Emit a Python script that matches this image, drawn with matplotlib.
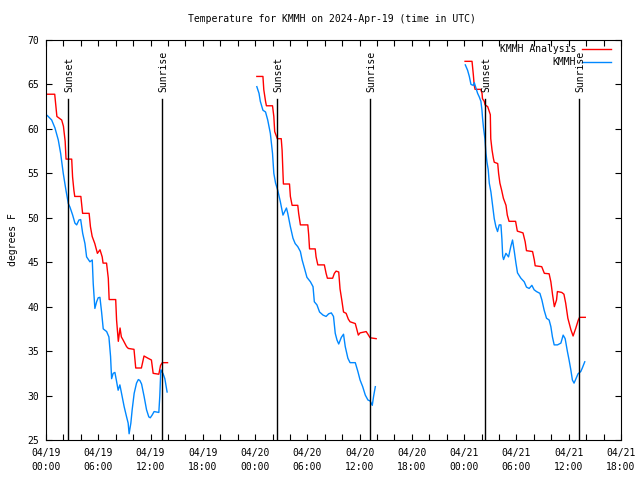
import matplotlib
matplotlib.use("Agg")
import matplotlib.pyplot as plt
from matplotlib.lines import Line2D

plt.rcParams['font.family'] = ['DejaVu Sans Mono']
plt.rcParams['font.size'] = 7

# hours since 04/19 00:00 UTC
red1_h = [0.15, 1.0, 1.25, 1.8, 2.0, 2.2, 2.3, 2.95, 3.05, 3.2, 3.3, 4.0, 4.2, 4.95, 5.1, 5.3, 5.6, 5.9, 6.2, 6.45,
          6.55, 6.95, 7.15, 7.25, 8.0, 8.1, 8.3, 8.5, 8.65, 8.85, 9.25, 9.45, 10.1, 10.3, 10.95, 11.15, 11.25, 11.7,
          12.1, 12.3, 12.95, 13.15, 13.35, 13.95]
red1_t = [63.9, 63.9, 61.4, 61.0, 60.3, 58.6, 56.6, 56.6, 54.6, 53.1, 52.4, 52.4, 50.5, 50.5, 49.0, 47.9, 47.1, 46.0,
          46.4, 45.6, 44.9, 44.9, 43.2, 40.8, 40.8, 38.5, 36.1, 37.6, 36.6, 36.25, 35.5, 35.3, 35.2, 33.1, 33.1, 34.0,
          34.45, 34.2, 34.0, 32.5, 32.4, 33.4, 33.7, 33.7]

red2_h = [24.2, 24.9, 25.0, 25.2, 25.3, 26.0, 26.15, 26.25, 26.55, 27.0, 27.1, 27.2, 27.25, 27.95, 28.05, 28.25, 28.9,
          29.0, 29.2, 30.05, 30.15, 30.25, 30.9, 31.0, 31.2, 31.95, 32.15, 32.3, 32.9, 33.1, 33.3, 33.6, 33.75, 33.95,
          34.15, 34.45, 34.7, 34.9, 35.5, 35.65, 35.85, 36.05, 36.75, 36.95, 37.2, 37.9]
red2_t = [65.9, 65.9, 64.4, 63.1, 62.6, 62.6, 61.4, 59.7, 58.9, 58.9, 57.6, 55.0, 53.8, 53.8, 52.4, 51.4, 51.4, 50.5,
          49.2, 49.2, 48.1, 46.5, 46.5, 45.6, 44.7, 44.7, 43.75, 43.2, 43.2, 43.75, 44.0, 43.9, 42.0, 40.75, 39.4,
          39.25, 38.6, 38.3, 38.1, 37.55, 36.8, 37.05, 37.2, 36.9, 36.5, 36.4]

red3_h = [48.1, 48.9, 49.05, 49.15, 49.25, 49.9, 50.05, 50.1, 50.3, 50.4, 50.7, 50.9, 51.0, 51.05, 51.2, 51.35, 51.45,
          51.85, 51.95, 52.1, 52.3, 52.5, 52.8, 52.95, 53.15, 53.9, 54.1, 54.75, 55.0, 55.15, 55.85, 56.05, 56.15,
          56.9, 57.2, 57.75, 57.95, 58.15, 58.35, 58.6, 58.7, 59.2, 59.45, 59.65, 59.9, 60.25, 60.5, 60.8, 61.1,
          61.25, 61.9]
red3_t = [67.6, 67.6, 66.1, 64.9, 64.45, 64.45, 64.0, 63.4, 63.1, 62.7, 62.5, 61.9, 61.6, 58.9, 57.6, 56.7, 56.25,
          56.1, 55.0, 53.9, 53.1, 52.2, 51.4, 50.3, 49.6, 49.6, 48.5, 48.3, 47.3, 46.3, 46.2, 45.25, 44.6, 44.5,
          43.75, 43.7, 42.8, 41.3, 40.0, 40.75, 41.7, 41.6, 41.4, 40.4, 38.7, 37.4, 36.7, 37.55, 38.5, 38.8, 38.8]

blue1_h = [0.15, 0.65, 1.03, 1.41, 1.68, 1.98, 2.29, 2.56, 2.75, 3.06, 3.32, 3.52, 3.78, 3.98, 4.21, 4.47, 4.66, 5.04,
           5.31, 5.42, 5.61, 5.81, 5.99, 6.19, 6.38, 6.57, 6.96, 7.22, 7.41, 7.53, 7.71, 7.91, 8.1, 8.28, 8.48, 8.67,
           8.97, 9.25, 9.43, 9.54, 9.74, 9.89, 10.12, 10.39, 10.6, 10.77, 10.97, 11.26, 11.54, 11.8, 11.97, 12.18,
           12.41, 12.95, 13.06, 13.18, 13.44, 13.64, 13.9]
blue1_t = [61.5, 61.0, 60.1, 58.75, 57.25, 55.0, 53.1, 51.6, 51.2, 50.3, 49.4, 49.2, 49.75, 49.8, 48.25, 47.1, 45.6,
           45.05, 45.25, 42.6, 39.8, 40.55, 41.0, 41.05, 39.4, 37.5, 37.2, 36.6, 34.4, 31.9, 32.5, 32.6, 31.6, 30.6,
           31.2, 30.25, 28.75, 27.6, 26.9, 25.7, 26.9, 28.4, 30.25, 31.4, 31.8, 31.7, 31.3, 29.9, 28.4, 27.6, 27.5,
           27.8, 28.2, 28.1, 29.9, 32.9, 32.45, 31.9, 30.4]

blue2_h = [24.2, 24.45, 24.6, 24.9, 25.2, 25.45, 25.75, 26.0, 26.15, 26.35, 26.6, 26.9, 27.2, 27.4, 27.6, 27.75, 28.05,
           28.35, 28.6, 28.9, 29.2, 29.4, 29.7, 29.95, 30.35, 30.65, 30.8, 31.1, 31.4, 31.8, 32.15, 32.45, 32.75,
           33.0, 33.2, 33.4, 33.6, 33.9, 34.15, 34.35, 34.65, 34.9, 35.5, 35.8, 36.05, 36.35, 36.65, 36.95, 37.2,
           37.45, 37.6, 37.8]
blue2_t = [64.75, 64.0, 63.1, 62.1, 61.9, 61.0, 59.5, 57.25, 55.0, 53.9, 53.1, 51.8, 50.3, 50.7, 51.1, 50.5, 49.0,
           47.7, 47.1, 46.75, 46.2, 45.25, 44.2, 43.3, 42.8, 42.25, 40.55, 40.2, 39.4, 39.05, 38.9, 39.2, 39.3, 38.9,
           37.0, 36.25, 35.8, 36.55, 36.9, 35.5, 34.2, 33.7, 33.7, 32.7, 31.75, 31.0, 30.05, 29.5, 29.4, 28.9, 29.9,
           31.0]

blue3_h = [48.13, 48.39, 48.59, 48.78, 49.04, 49.16, 49.35, 49.54, 49.73, 49.92, 50.04, 50.11, 50.22, 50.38, 50.5,
           50.61, 50.76, 50.88, 51.07, 51.26, 51.45, 51.64, 51.83, 52.02, 52.22, 52.33, 52.42, 52.52, 52.79, 53.09,
           53.36, 53.55, 53.74, 53.94, 54.12, 54.51, 54.89, 55.15, 55.46, 55.77, 56.03, 56.3, 56.69, 56.92, 57.18,
           57.45, 57.75, 57.95, 58.13, 58.33, 58.71, 59.1, 59.36, 59.59, 59.85, 60.04, 60.24, 60.42, 60.61, 60.81,
           61.07, 61.38, 61.56, 61.84]
blue3_t = [67.2, 66.6, 65.9, 65.0, 64.9, 65.2, 64.6, 64.0, 63.6, 63.1, 62.1, 61.2, 60.1, 58.9, 57.25, 56.3, 55.4,
           53.9, 52.9, 51.4, 49.9, 49.0, 48.45, 49.2, 49.2, 47.6, 45.7, 45.3, 46.0, 45.6, 46.8, 47.5, 46.3, 44.9,
           43.8, 43.2, 42.8, 42.2, 42.05, 42.4, 41.9, 41.7, 41.5, 40.75, 39.6, 38.7, 38.5, 37.75, 36.6, 35.7, 35.7,
           35.9, 36.8, 36.4, 34.95, 34.0, 32.9, 31.75, 31.4, 31.85, 32.45, 32.7, 33.1, 33.8]

event_hours = [2.52, 13.3, 26.47, 37.24, 50.42, 61.19]
event_names = ['Sunset', 'Sunrise', 'Sunset', 'Sunrise', 'Sunset', 'Sunrise']

tick_hours = list(range(0, 67, 2))
label_hours = [0, 6, 12, 18, 24, 30, 36, 42, 48, 54, 60, 66]
label_text = ['04/19\n00:00', '04/19\n06:00', '04/19\n12:00', '04/19\n18:00',
              '04/20\n00:00', '04/20\n06:00', '04/20\n12:00', '04/20\n18:00',
              '04/21\n00:00', '04/21\n06:00', '04/21\n12:00', '04/21\n18:00']

red = '#ff0000'
blue = '#0088ff'

fig = plt.figure(figsize=(6.4, 4.8), dpi=100)
ax = fig.add_axes([46 / 640, 40 / 480, 575 / 640, 400 / 480])

for h, t in [(red1_h, red1_t), (red2_h, red2_t), (red3_h, red3_t)]:
    ax.plot(h, t, color=red, lw=1.0)
for h, t in [(blue1_h, blue1_t), (blue2_h, blue2_t), (blue3_h, blue3_t)]:
    ax.plot(h, t, color=blue, lw=1.0)

for h, name in zip(event_hours, event_names):
    ax.plot([h, h], [25, 63.4], color='black', lw=1.0)
    ax.text(h + 0.15, 64.1, name, rotation=90, ha='center', va='bottom', fontsize=7)

ax.set_xlim(0, 66)
ax.set_ylim(25, 70)
ax.set_xticks(tick_hours)
ax.set_xticklabels([label_text[label_hours.index(h)] if h in label_hours else '' for h in tick_hours],
                   linespacing=1.4)
ax.set_yticks(range(25, 71, 5))
ax.tick_params(direction='in', length=4, width=0.8, top=True, right=True, labelsize=7)
ax.tick_params(axis='x', pad=6)
ax.tick_params(axis='y', pad=5)
for s in ax.spines.values():
    s.set_linewidth(0.8)

ax.set_ylabel('degrees F', fontsize=7, labelpad=7)
fig.text(0.519, 1 - 19 / 480, 'Temperature for KMMH on 2024-Apr-19 (time in UTC)',
         ha='center', va='center', fontsize=7)

# legend, gnuplot style: right-aligned text, sample line to the right
ax.text(0.9217, 0.9775, 'KMMH Analysis', transform=ax.transAxes, ha='right', va='center', fontsize=7)
ax.text(0.9217, 0.945, 'KMMH', transform=ax.transAxes, ha='right', va='center', fontsize=7)
ax.add_line(Line2D([0.932, 0.983], [0.9775, 0.9775], transform=ax.transAxes, color=red, lw=1.0))
ax.add_line(Line2D([0.932, 0.983], [0.945, 0.945], transform=ax.transAxes, color=blue, lw=1.0))

fig.savefig('out.png', dpi=100)
